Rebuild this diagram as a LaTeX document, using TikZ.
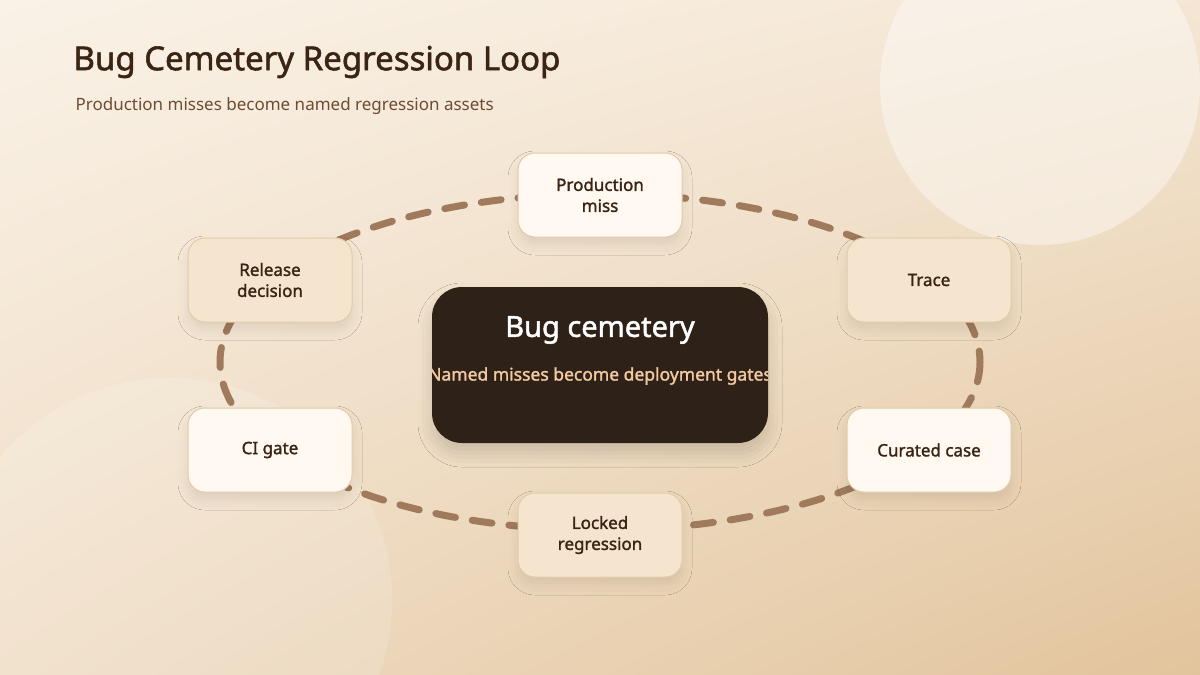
\documentclass[tikz,border=0pt]{standalone}
\usepackage{fontspec}
\setmainfont{Noto Sans}
\newfontfamily\bfn{Noto Sans}[FakeBold=1.6]
\usetikzlibrary{shadows.blur,shadings}
\definecolor{bgA}{HTML}{FAF2E7}
\definecolor{bgB}{HTML}{E2C49C}
\definecolor{ink}{HTML}{3A2414}
\definecolor{sub}{HTML}{6E4C32}
\definecolor{loopc}{HTML}{A07A5C}
\definecolor{cardW}{HTML}{FFF9F1}
\definecolor{cardB}{HTML}{F5E5CF}
\definecolor{edge}{HTML}{E2CBAA}
\definecolor{dark}{HTML}{2E2218}
\definecolor{peach}{HTML}{F2C9A0}
\tikzset{
 card/.style={draw=edge, line width=1pt, rounded corners=17pt, minimum width=164pt, minimum height=84pt,
   align=center, text=ink, font=\fontsize{17}{21}\selectfont\bfn,
   blur shadow={shadow xshift=0pt, shadow yshift=-8pt, shadow blur radius=10pt, shadow opacity=8}},
 wcard/.style={card, fill=cardW},
 bcard/.style={card, fill=cardB}
}
\begin{document}
\begin{tikzpicture}[x=1pt,y=-1pt]
\useasboundingbox (0,0) rectangle (1200,675);
\shade[upper left=bgA, upper right=bgA!75!bgB, lower left=bgA!55!bgB, lower right=bgB] (0,0) rectangle (1200,675);
\fill[white, opacity=0.4] (1040,85) circle (160);
\fill[white, opacity=0.15] (170,600) circle (222);
\node[anchor=west, text=ink, font=\fontsize{33}{38}\selectfont\bfn] (title) at (70,62) {Bug Cemetery Regression Loop};
\node[anchor=west, text=sub, font=\fontsize{17}{20}\selectfont] (subtitle) at (72,106) {Production misses become named regression assets};
\draw[loopc, line width=7pt, line cap=round, dash pattern=on 20pt off 17pt] (600,362) ellipse [x radius=380, y radius=168];
\node[wcard] (prod) at (600,195) {Production\\miss};
\node[bcard] (trace) at (929,280) {Trace};
\node[wcard] (cur) at (929,450) {Curated case};
\node[bcard] (lock) at (600,535) {Locked\\regression};
\node[wcard] (ci) at (270,450) {CI gate};
\node[bcard] (rel) at (270,280) {Release\\decision};
\node[fill=dark, rounded corners=30pt, minimum width=336pt, minimum height=156pt,
  blur shadow={shadow xshift=0pt, shadow yshift=-10pt, shadow blur radius=14pt, shadow opacity=15}] (core) at (600,365) {};
\node[text=white, font=\fontsize{29}{34}\selectfont\bfn] (coret) at (600,330) {Bug cemetery};
\begin{scope}
\clip[rounded corners=30pt] (432,287) rectangle (768,443);
\node[text=peach, font=\fontsize{17.5}{21}\selectfont\bfn] (cores) at (600,376) {Named misses become deployment gates};
\end{scope}
\end{tikzpicture}
\end{document}
